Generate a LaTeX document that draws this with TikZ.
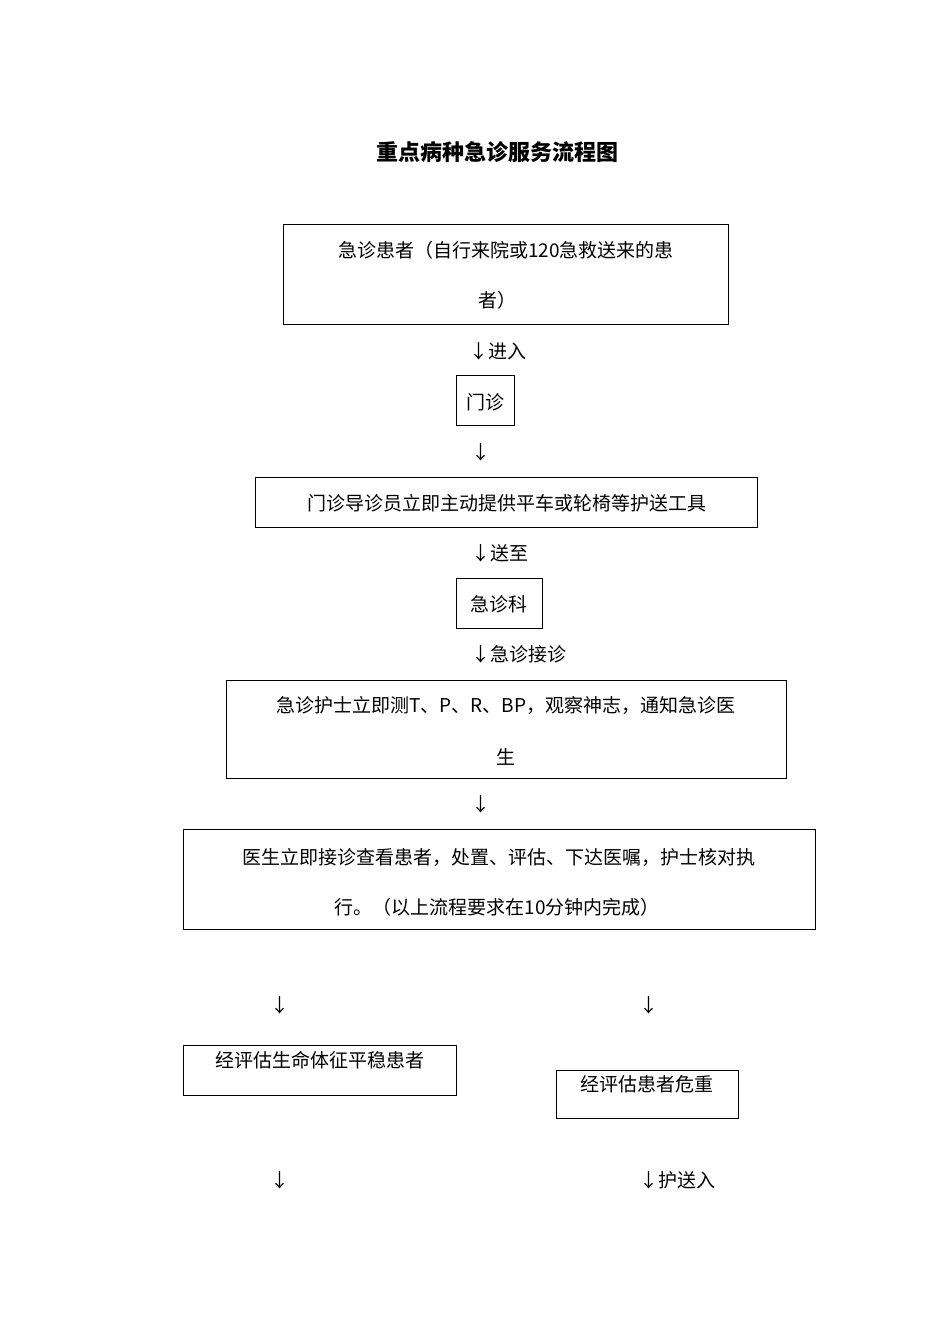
\documentclass[tikz,border=0pt]{standalone}
\usepackage{fontspec}
\setmainfont{Noto Sans CJK SC}
\begin{document}
\begin{tikzpicture}[x=1pt,y=-1pt,
  bx/.style={draw,line width=0.8pt},
  tx/.style={anchor=center,font=\fontsize{19}{24}\selectfont,inner sep=0pt},
  ar/.style={anchor=west,font=\fontsize{19}{24}\selectfont,inner sep=0pt}]
\useasboundingbox (0,0) rectangle (950,1344);
\node[tx,font=\fontsize{22}{26}\selectfont\bfseries] (title) at (497,152) {重点病种急诊服务流程图};
\draw[bx] (283,224) rectangle (728,324);
\node[tx] (b1a) at (506,250) {急诊患者（自行来院或120急救送来的患};
\node[tx] (b1b) at (497,300) {者）};
\node[ar] (a1) at (469,351) {↓进入};
\draw[bx] (456,375) rectangle (514,425);
\node[tx] (b2) at (485,402) {门诊};
\node[ar] (a2) at (471,452) {↓};
\draw[bx] (255,477) rectangle (757,527);
\node[tx] (b3) at (507,503) {门诊导诊员立即主动提供平车或轮椅等护送工具};
\node[ar] (a3) at (471,553) {↓送至};
\draw[bx] (456,578) rectangle (542,628);
\node[tx] (b4) at (499,604) {急诊科};
\node[ar] (a4) at (471,654) {↓急诊接诊};
\draw[bx] (226,680) rectangle (786,778);
\node[tx] (b5a) at (506,705) {急诊护士立即测T、P、R、BP，观察神志，通知急诊医};
\node[tx] (b5b) at (506,757) {生};
\node[ar] (a5) at (471,804) {↓};
\draw[bx] (183,829) rectangle (815,929);
\node[tx] (b6a) at (499,857) {医生立即接诊查看患者，处置、评估、下达医嘱，护士核对执};
\node[tx] (b6b) at (497,907) {行。（以上流程要求在10分钟内完成）};
\node[ar] (a6) at (270,1005) {↓};
\node[ar] (a7) at (639,1005) {↓};
\draw[bx] (183,1045) rectangle (456,1095);
\node[tx] (b7) at (320,1060) {经评估生命体征平稳患者};
\draw[bx] (556,1070) rectangle (738,1118);
\node[tx] (b8) at (647,1084) {经评估患者危重};
\node[ar] (a8) at (270,1180) {↓};
\node[ar] (a9) at (639,1180) {↓护送入};
\end{tikzpicture}
\end{document}
